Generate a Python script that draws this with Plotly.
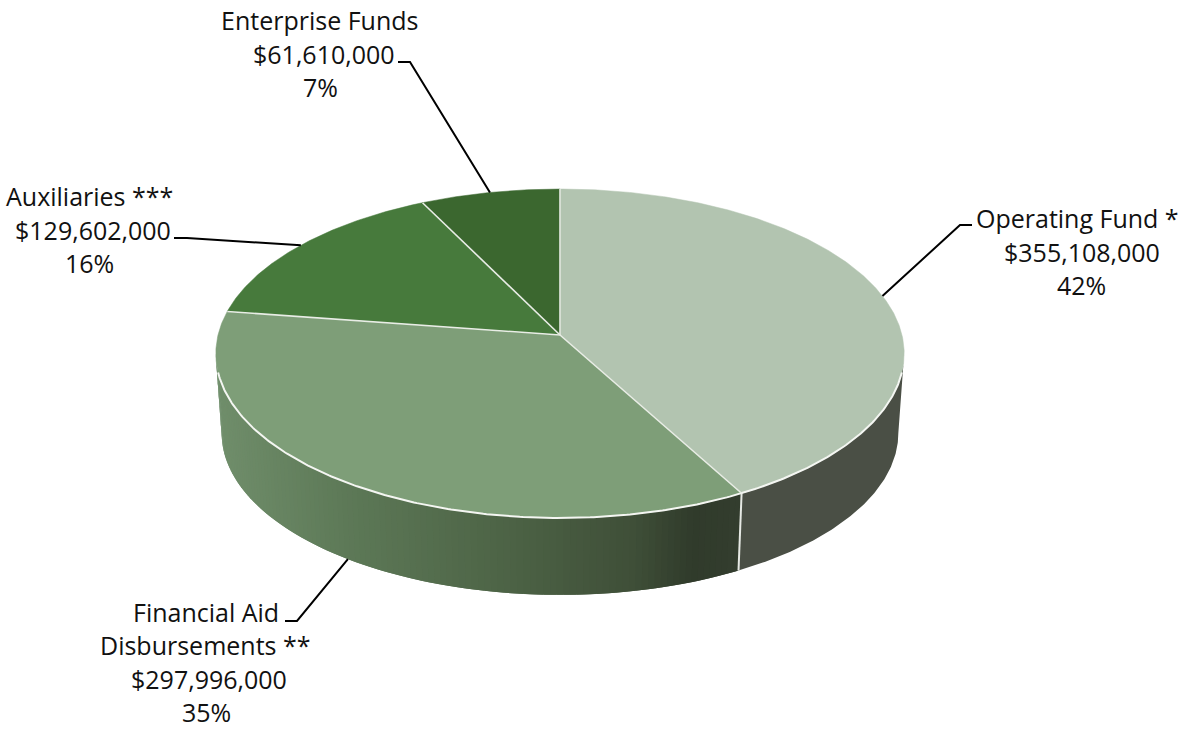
import math
import plotly.graph_objects as go

# ---- data ----
categories = ["Operating Fund *", "Financial Aid|Disbursements **", "Auxiliaries ***", "Enterprise Funds"]
amounts = [355108000, 297996000, 129602000, 61610000]
percent_labels = ["42%", "35%", "16%", "7%"]
top_colors = ["#b2c4b0", "#7e9e78", "#477a3c", "#3b672f"]

# ---- pie geometry (perspective view of a disc) ----
W, H = 1193, 729
CX, CY_TOP, CY_BOT = 560, 335, 415
RX, RY, PERSP, BOT_SCALE = 342, 162.4, 0.1125, 0.983
FONT = "Open Sans"
FS = 25
LINE_GAP = 33.5
SIL_R, SIL_L = 96.5, 263.5   # angles where the disc's outline is widest

total = sum(amounts)
bounds = [0.0]
for v in amounts:
    bounds.append(bounds[-1] + v / total * 360)


def proj(a_deg, bottom=False):
    a = math.radians(a_deg)
    u, v = math.sin(a), math.cos(a)
    d = 1 + PERSP * v
    if bottom:
        return CX + BOT_SCALE * RX * u / d, CY_BOT - BOT_SCALE * RY * v / d
    return CX + RX * u / d, CY_TOP - RY * v / d


def arc(a0, a1, bottom=False, step=0.5):
    n = max(2, int(abs(a1 - a0) / step))
    return [proj(a0 + (a1 - a0) * i / n, bottom=bottom) for i in range(n + 1)]


def lerp_color(stops, t):
    for (t0, c0), (t1, c1) in zip(stops, stops[1:]):
        if t <= t1:
            f = (t - t0) / (t1 - t0)
            rgb = [round(int(c0[i:i+2], 16) * (1 - f) + int(c1[i:i+2], 16) * f) for i in (1, 3, 5)]
            return "rgb(%d,%d,%d)" % tuple(rgb)
    return c1


fig = go.Figure()


def poly(pts, color, lw=0.0):
    fig.add_trace(go.Scatter(x=[p[0] for p in pts], y=[p[1] for p in pts], mode="lines", fill="toself",
                             fillcolor=color, line=dict(color=color, width=lw), hoverinfo="skip", showlegend=False))


def line(pts, color, w):
    fig.add_trace(go.Scatter(x=[p[0] for p in pts], y=[p[1] for p in pts], mode="lines",
                             line=dict(color=color, width=w), hoverinfo="skip", showlegend=False))


# side wall
SIDE_RIGHT = "#4a4f45"
side_stops = [(210, "#718f6c"), (350, "#5d7957"), (500, "#4e6547"), (640, "#3f4f38"), (700, "#303b2b"), (745, "#333d2e")]
poly(arc(SIL_R, bounds[1]) + arc(bounds[1], SIL_R, bottom=True), SIDE_RIGHT)
# gradient painted from the far left towards the divider; each band reaches under the one painted after it
step = 1.0
a = SIL_L
while a > bounds[1]:
    b = max(a - step, bounds[1])
    end = min(a + step, SIL_L)
    xm = proj((a + b) / 2)[0]
    poly(arc(b, end) + arc(end, b, bottom=True), lerp_color(side_stops, xm))
    a = b

# top surface
for i, col in enumerate(top_colors):
    poly([(CX, CY_TOP)] + arc(bounds[i], bounds[i + 1]) + [(CX, CY_TOP)], col, lw=0.5)

# white dividers
line([proj(bounds[1]), proj(bounds[1], bottom=True)], "#e6e9e4", 2)
line(arc(103, 257), "#f4f6f2", 2)
for b in bounds[:4]:
    line([(CX, CY_TOP), proj(b)], "#e9ede6", 1.6)

# leaders
mids = [(bounds[i] + bounds[i + 1]) / 2 for i in range(4)]
leader_anchor = [proj(mids[0]), proj(mids[1], bottom=True), proj(mids[2]), proj(mids[3])]
leader_elbow = [[(960, 225), (972, 225)], [(297, 621), (285, 621)], [(187, 238), (174, 238)], [(410, 62), (398, 62)]]
for anchor, rest in zip(leader_anchor, leader_elbow):
    line([anchor] + rest, "#000000", 2)

# labels
label_center_x = [[1077.5, 1081.5, 1081], [205.5, 205.5, 209, 206], [89, 93, 89.5], [319.5, 323.5, 320.5]]
label_first_y = [218, 611.5, 196, 20]
annotations = []
for i in range(4):
    lines = categories[i].split("|") + [f"${amounts[i]:,}", percent_labels[i]]
    for j, t in enumerate(lines):
        annotations.append(dict(x=label_center_x[i][j], y=label_first_y[i] + j * LINE_GAP, text=t, showarrow=False,
                                xanchor="center", yanchor="middle", xref="x", yref="y",
                                font=dict(family=FONT, size=FS, color="#111111")))

fig.update_layout(width=W, height=H, margin=dict(l=0, r=0, t=0, b=0), paper_bgcolor="white", plot_bgcolor="white",
                  showlegend=False, annotations=annotations,
                  xaxis=dict(range=[0, W], visible=False, fixedrange=True),
                  yaxis=dict(range=[H, 0], visible=False, fixedrange=True))
fig.write_html("out.html", config=dict(displayModeBar=False),
               post_script="document.body.style.margin='0';document.documentElement.style.overflow='hidden';")
